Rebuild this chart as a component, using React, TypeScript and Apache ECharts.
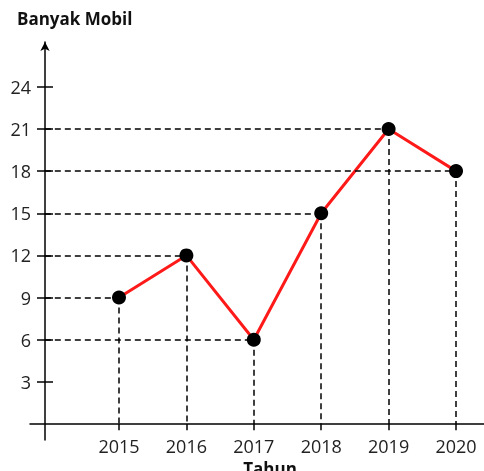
import React, { useEffect, useRef } from "react";
import * as echarts from "echarts";

const years = [2015, 2016, 2017, 2018, 2019, 2020];
const cars = [9, 12, 6, 15, 21, 18];
const yTicks = [3, 6, 9, 12, 15, 18, 21, 24];
const yTitle = "Banyak Mobil";
const xTitle = "Tahun";

const FONT = "'Open Sans', 'Noto Sans', sans-serif";

export default function App() {
  const ref = useRef<HTMLDivElement>(null);
  useEffect(() => {
    const chart = echarts.init(ref.current!, null, { renderer: "svg" });
    const xMin = 2013.68;
    const xMax = 2020.415;
    const yAxisX = 2013.9;
    const tickDepth = -0.45;
    const points = years.map((y, i) => [y, cars[i]]);
    const guides: any[] = [];
    points.forEach(([x, v]) => {
      guides.push([{ coord: [yAxisX, v] }, { coord: [x, v] }]);
      guides.push([{ coord: [x, v] }, { coord: [x, 0] }]);
    });
    const xTickMarks = years.map((y) => [{ coord: [y, 0] }, { coord: [y, tickDepth] }]);
    const yCommon = {
      type: "value",
      position: "left",
      min: -1.14,
      max: 27.19,
      offset: -15,
      splitLine: { show: false },
    };
    chart.setOption({
      animation: false,
      grid: { left: 30, right: 0, top: 42, bottom: 31, containLabel: false },
      xAxis: {
        type: "value",
        min: xMin,
        max: xMax,
        splitLine: { show: false },
        axisLine: { onZero: true, lineStyle: { color: "#000", width: 1.5 } },
        axisTick: { show: false },
        axisLabel: {
          customValues: years,
          formatter: (v: number) => String(Math.round(v)),
          color: "#222",
          fontSize: 18,
          fontFamily: FONT,
          margin: -3,
        },
      },
      yAxis: [
        {
          ...yCommon,
          axisLine: {
            show: true,
            onZero: false,
            symbol: ["none", "arrow"],
            symbolSize: [7, 9],
            symbolOffset: [0, 0],
            lineStyle: { color: "#000", width: 1.5 },
          },
          axisTick: { show: true, customValues: yTicks, length: 8, lineStyle: { color: "#000", width: 1.5 } },
          axisLabel: {
            customValues: yTicks,
            color: "#222",
            fontSize: 18,
            fontFamily: FONT,
            margin: 14,
          },
        },
        {
          ...yCommon,
          axisLine: { show: false, onZero: false },
          axisTick: { show: true, inside: true, customValues: yTicks, length: 8, lineStyle: { color: "#000", width: 1.5 } },
          axisLabel: { show: false },
        },
      ],
      graphic: [
        {
          type: "text",
          left: 17,
          top: 10,
          style: { text: yTitle, font: `bold 17px ${FONT}`, fill: "#111" },
        },
        {
          type: "text",
          x: 270,
          y: 460,
          style: { text: xTitle, font: `bold 17px ${FONT}`, fill: "#111", align: "center", verticalAlign: "top" },
        },
      ],
      series: [
        {
          type: "line",
          data: [],
          z: 1,
          markLine: {
            silent: true,
            symbol: ["none", "none"],
            label: { show: false },
            lineStyle: { color: "#000", width: 1.5, type: [6, 4] },
            data: guides,
          },
        },
        {
          type: "line",
          data: [],
          z: 1,
          markLine: {
            silent: true,
            symbol: ["none", "none"],
            label: { show: false },
            lineStyle: { color: "#000", width: 1.5, type: "solid" },
            data: xTickMarks,
          },
        },
        {
          type: "line",
          data: points,
          z: 3,
          symbol: "circle",
          symbolSize: 14,
          itemStyle: { color: "#000" },
          lineStyle: { color: "#ff1a1a", width: 3 },
        },
      ],
    });
    return () => chart.dispose();
  }, []);
  return <div ref={ref} style={{ position: "fixed", left: 0, top: 0, width: 484, height: 471 }} />;
}
